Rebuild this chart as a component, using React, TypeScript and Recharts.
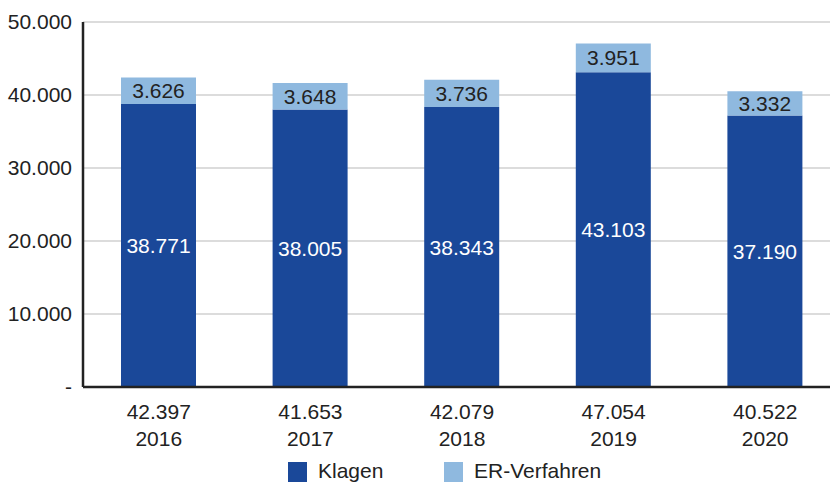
import { BarChart, Bar, XAxis, YAxis, CartesianGrid, LabelList } from 'recharts';

const years = ['2016', '2017', '2018', '2019', '2020'];
const klagen = [38771, 38005, 38343, 43103, 37190];
const erVerfahren = [3626, 3648, 3736, 3951, 3332];
const totals = ['42.397', '41.653', '42.079', '47.054', '40.522'];
const yTicks = [0, 10000, 20000, 30000, 40000, 50000];

const DARK = '#1a4899';
const LIGHT = '#8fb9df';
const TEXT = '#222222';
const FONT = '"Liberation Sans", Arial, sans-serif';

const data = years.map((year, i) => ({
  year,
  total: totals[i],
  klagen: klagen[i],
  er: erVerfahren[i],
}));

// 12345 -> "12.345", 0 -> "-"
const fmt = (v: number) =>
  v === 0 ? '-' : String(Math.round(v)).replace(/\B(?=(\d{3})+(?!\d))/g, '.');

const YearTick = (props: any) => {
  const { x, y, payload, index } = props;
  return (
    <g>
      <text x={x} y={y + 30} textAnchor="middle" fill={TEXT} fontSize={21} fontFamily={FONT}>
        {totals[index]}
      </text>
      <text x={x} y={y + 57} textAnchor="middle" fill={TEXT} fontSize={21} fontFamily={FONT}>
        {payload.value}
      </text>
    </g>
  );
};

const legendItems = [
  { name: 'Klagen', color: DARK, left: 288 },
  { name: 'ER-Verfahren', color: LIGHT, left: 444 },
];

export default function App() {
  return (
    <div
      style={{
        position: 'absolute',
        left: 0,
        top: 0,
        width: 830,
        height: 482,
        overflow: 'hidden',
        background: '#fff',
        fontFamily: FONT,
      }}
    >
      <BarChart
        width={841}
        height={482}
        data={data}
        margin={{ top: 22, right: 0, left: 0, bottom: 35 }}
        barSize={75}
      >
        <CartesianGrid vertical={false} stroke="#d0d0d0" strokeWidth={1.5} />
        <XAxis
          dataKey="year"
          height={60}
          tickLine={false}
          tickSize={0}
          axisLine={{ stroke: TEXT, strokeWidth: 2.5 }}
          tick={<YearTick />}
          interval={0}
        />
        <YAxis
          width={83}
          domain={[0, 50000]}
          ticks={yTicks}
          tickFormatter={fmt}
          tickLine={false}
          tickSize={0}
          tickMargin={11}
          axisLine={{ stroke: TEXT, strokeWidth: 2.5 }}
          tick={{ fill: TEXT, fontSize: 21, fontFamily: FONT }}
        />
        <Bar dataKey="klagen" stackId="a" fill={DARK} isAnimationActive={false}>
          <LabelList
            dataKey="klagen"
            position="center"
            formatter={(v: any) => fmt(Number(v))}
            fill="#ffffff"
            fontSize={21}
            fontFamily={FONT}
          />
        </Bar>
        <Bar dataKey="er" stackId="a" fill={LIGHT} isAnimationActive={false}>
          <LabelList
            dataKey="er"
            position="center"
            formatter={(v: any) => fmt(Number(v))}
            fill={TEXT}
            fontSize={21}
            fontFamily={FONT}
          />
        </Bar>
      </BarChart>
      {legendItems.map((item) => (
        <div
          key={item.name}
          style={{
            position: 'absolute',
            left: item.left,
            top: 462,
            display: 'flex',
            alignItems: 'flex-start',
          }}
        >
          <div style={{ width: 19, height: 20, background: item.color }} />
          <span
            style={{
              marginLeft: 11,
              fontSize: 21,
              lineHeight: '21px',
              color: TEXT,
              marginTop: -2,
            }}
          >
            {item.name}
          </span>
        </div>
      ))}
    </div>
  );
}
